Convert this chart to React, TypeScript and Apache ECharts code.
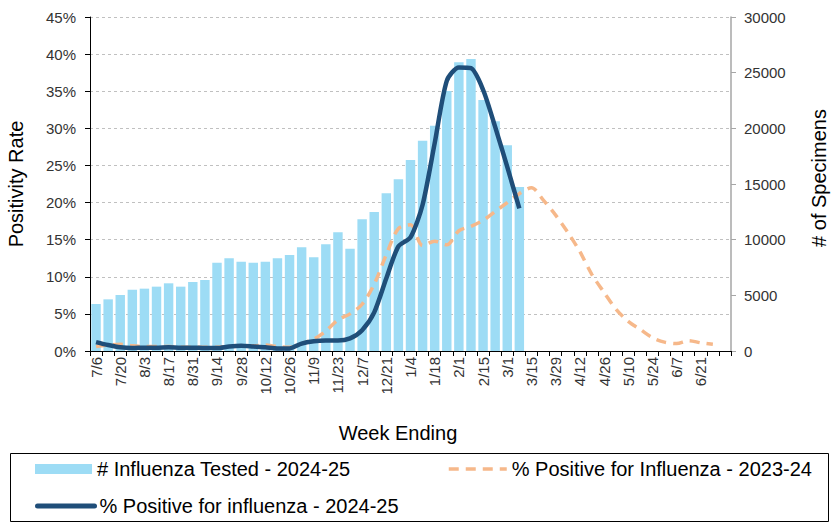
import React, { useEffect, useRef } from "react";
import * as echarts from "echarts";

const weeks = [
  "7/6", "7/13", "7/20", "7/27", "8/3", "8/10", "8/17", "8/24", "8/31", "9/7",
  "9/14", "9/21", "9/28", "10/5", "10/12", "10/19", "10/26", "11/2", "11/9", "11/16",
  "11/23", "11/30", "12/7", "12/14", "12/21", "12/28", "1/4", "1/11", "1/18", "1/25",
  "2/1", "2/8", "2/15", "2/22", "3/1", "3/8", "3/15", "3/22", "3/29", "4/5",
  "4/12", "4/19", "4/26", "5/3", "5/10", "5/17", "5/24", "5/31", "6/7", "6/14",
  "6/21", "6/28", "7/5",
];

const tested2425 = [
  4220, 4640, 5030, 5500, 5600, 5780, 6080, 5780, 6200, 6380,
  7930, 8320, 8020, 7930, 8020, 8320, 8620, 9310, 8410, 9580,
  10660, 9190, 11830, 12480, 14160, 15420, 17150, 18890, 20240, 23350,
  25930, 26230, 22550, 20630, 18470, 14730,
];

const pos2324 = [
  0.6, 0.8, 0.9, 0.7, 0.6, 0.6, 0.6, 0.5, 0.5, 0.5,
  0.5, 0.6, 0.7, 0.7, 0.8, 0.6, 0.5, 1.0, 1.6, 2.7,
  4.2, 5.0, 6.3, 9.0, 13.0, 16.5, 17.0, 14.2, 14.8, 14.3,
  16.2, 16.8, 17.6, 18.8, 20.0, 21.2, 22.0, 20.3, 18.3, 16.0,
  13.4, 10.3, 7.9, 5.6, 4.0, 2.9, 1.8, 1.2, 1.0, 1.4,
  1.1, 0.9,
];

const pos2425 = [
  1.2, 0.8, 0.5, 0.4, 0.45, 0.45, 0.5, 0.45, 0.45, 0.4,
  0.4, 0.6, 0.7, 0.6, 0.5, 0.35, 0.35, 1.0, 1.3, 1.4,
  1.4, 1.7, 2.8, 5.2, 9.8, 14.1, 15.3, 19.7, 28.0, 36.4,
  38.2, 38.1, 35.2, 30.2, 24.8, 19.2,
];

const leftTicksMax = 45;
const rightTicksMax = 30000;

const FONT = "'Liberation Sans', Arial, sans-serif";
const NAME_BAR = "# Influenza Tested - 2024-25";
const NAME_OLD = "% Positive for Influenza - 2023-24";
const NAME_NEW = "% Positive for influenza - 2024-25";

export default function App() {
  const ref = useRef<HTMLDivElement>(null);

  useEffect(() => {
    if (!ref.current) return;
    const chart = echarts.init(ref.current, undefined, { renderer: "svg" });
    const legendText = { fontSize: 20, color: "#000", fontFamily: FONT };
    chart.setOption({
      animation: false,
      textStyle: { fontFamily: FONT },
      grid: { left: 90, right: 103, top: 17, bottom: 172, containLabel: false },
      xAxis: {
        type: "category",
        data: weeks,
        boundaryGap: true,
        axisLine: { show: true, lineStyle: { color: "#000", width: 1 } },
        axisTick: { show: true, interval: 0, length: 5, lineStyle: { color: "#000" } },
        axisLabel: {
          interval: (i: number) => i % 2 === 0 && i < 52,
          rotate: 90,
          margin: 6,
          fontSize: 15,
          color: "#333",
          fontFamily: FONT,
        },
        splitLine: { show: false },
      },
      yAxis: [
        {
          type: "value",
          min: 0,
          max: leftTicksMax,
          interval: 5,
          position: "left",
          axisLine: { show: true, lineStyle: { color: "#000", width: 1 } },
          axisTick: { show: true, length: 5, lineStyle: { color: "#000" } },
          axisLabel: { formatter: "{value}%", fontSize: 15, color: "#333", margin: 14, fontFamily: FONT },
          splitLine: { show: true, lineStyle: { color: "#c0c0c0", type: [3, 3], width: 1 } },
        },
        {
          type: "value",
          min: 0,
          max: rightTicksMax,
          interval: 5000,
          position: "right",
          axisLine: { show: true, lineStyle: { color: "#a6a6a6", width: 1.5 } },
          axisTick: { show: true, length: 5, lineStyle: { color: "#a6a6a6" } },
          axisLabel: {
            formatter: (v: number) => String(v),
            fontSize: 15,
            color: "#333",
            margin: 13,
            fontFamily: FONT,
          },
          splitLine: { show: false },
        },
      ],
      legend: [
        {
          data: [{ name: NAME_BAR, icon: "rect" }],
          left: 35,
          top: 459,
          padding: 0,
          itemWidth: 57,
          itemHeight: 10,
          itemGap: 5,
          textStyle: legendText,
          selectedMode: false,
        },
        {
          data: [{ name: NAME_OLD, itemStyle: { opacity: 0 } }],
          left: 447,
          top: 459,
          padding: 0,
          itemWidth: 58,
          itemHeight: 10,
          lineStyle: { width: 3.5, type: [10, 7], color: "#F6B88A" },
          textStyle: legendText,
          selectedMode: false,
        },
        {
          data: [{ name: NAME_NEW, itemStyle: { opacity: 0 } }],
          left: 35,
          top: 496,
          padding: 0,
          itemWidth: 57,
          itemHeight: 10,
          lineStyle: { width: 5, color: "#1F4E79", cap: "round" },
          textStyle: legendText,
          selectedMode: false,
        },
      ],
      graphic: [
        {
          type: "rect",
          shape: { x: 10.5, y: 453.5, width: 818, height: 68 },
          style: { fill: "none", stroke: "#000", lineWidth: 1 },
          silent: true,
        },
        {
          type: "text",
          x: 16,
          y: 184,
          rotation: Math.PI / 2,
          style: {
            text: "Positivity Rate",
            fontSize: 20,
            fontFamily: FONT,
            fill: "#000",
            align: "center",
            verticalAlign: "middle",
          },
        },
        {
          type: "text",
          x: 819,
          y: 178,
          rotation: Math.PI / 2,
          style: {
            text: "# of Specimens",
            fontSize: 20,
            fontFamily: FONT,
            fill: "#000",
            align: "center",
            verticalAlign: "middle",
          },
        },
        {
          type: "text",
          x: 398,
          y: 433,
          style: {
            text: "Week Ending",
            fontSize: 20,
            fontFamily: FONT,
            fill: "#000",
            align: "center",
            verticalAlign: "middle",
          },
        },
      ],
      series: [
        {
          name: NAME_BAR,
          type: "bar",
          yAxisIndex: 1,
          data: tested2425,
          barCategoryGap: "22%",
          itemStyle: { color: "#9DDCF5" },
          z: 1,
        },
        {
          name: NAME_OLD,
          type: "line",
          yAxisIndex: 0,
          data: pos2324,
          symbol: "none",
          smooth: 0.3,
          lineStyle: { color: "#F6B88A", width: 3.5, type: [10, 7] },
          itemStyle: { color: "#F6B88A" },
          z: 2,
        },
        {
          name: NAME_NEW,
          type: "line",
          yAxisIndex: 0,
          data: pos2425,
          symbol: "none",
          smooth: 0.25,
          lineStyle: { color: "#1F4E79", width: 4.5 },
          itemStyle: { color: "#1F4E79" },
          z: 3,
        },
      ],
    });
    return () => chart.dispose();
  }, []);

  return (
    <div
      ref={ref}
      style={{ position: "absolute", left: 0, top: 0, width: 834, height: 523, background: "#fff" }}
    />
  );
}
